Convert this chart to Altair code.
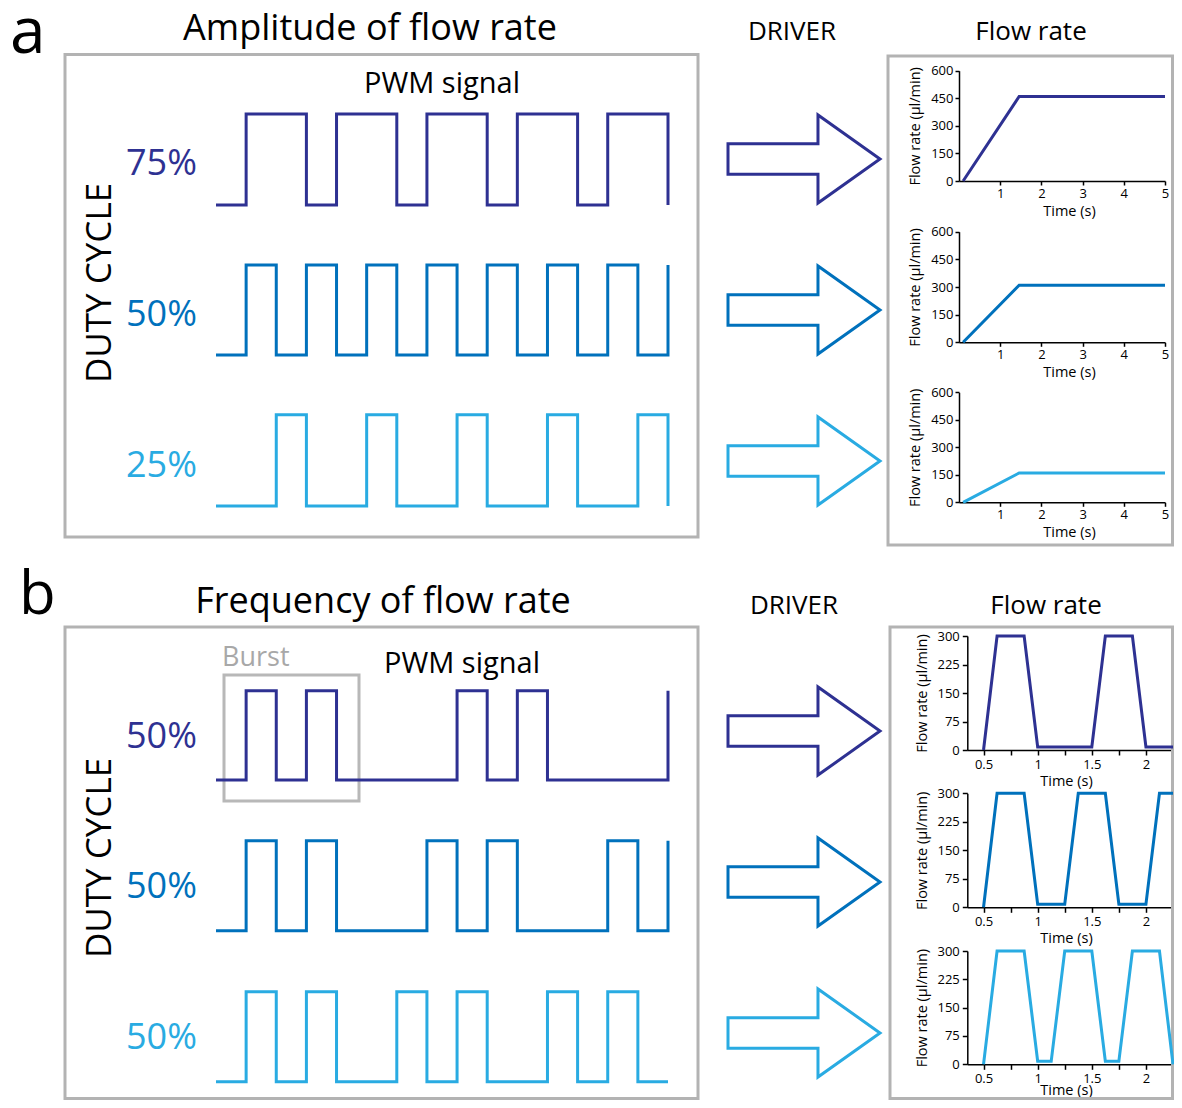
import altair as alt
import pandas as pd

FONT = "Open Sans"
DARK, MID, LIGHT = "#2E3192", "#0071BC", "#29ABE2"
GRAY = "#b3b3b3"

# ---------------- data ----------------
N_SLOTS = 15  # PWM time slots drawn
# transition times (in slots) of each PWM signal, starting from low level
pwm_a75_edges = [1, 3, 4, 6, 7, 9, 10, 12, 13, 15]
pwm_a50_edges = [1, 2, 3, 4, 5, 6, 7, 8, 9, 10, 11, 12, 13, 14, 15]
pwm_a25_edges = [2, 3, 5, 6, 8, 9, 11, 12, 14, 15]
pwm_b1_edges = [1, 2, 3, 4, 8, 9, 10, 11, 15]
pwm_b2_edges = [1, 2, 3, 4, 7, 8, 9, 10, 13, 14, 15]
pwm_b3_edges = [1, 2, 3, 4, 6, 7, 8, 9, 11, 12, 13, 14]
duty_a_labels = ["75%", "50%", "25%"]
duty_b_labels = ["50%", "50%", "50%"]

flow_a_time = [0.1, 1.46, 5.0]
flow_a75 = [0, 460, 460]
flow_a50 = [0, 310, 310]
flow_a25 = [0, 160, 160]
flow_a_xticks = [1, 2, 3, 4, 5]
flow_a_yticks = [0, 150, 300, 450, 600]

flow_b1_time = [0.5, 0.625, 0.875, 1.0, 1.5, 1.625, 1.875, 2.0, 2.25]
flow_b1 = [0, 300, 300, 8, 8, 300, 300, 8, 8]
flow_b2_time = [0.5, 0.625, 0.875, 1.0, 1.25, 1.375, 1.625, 1.75, 2.0, 2.125, 2.25]
flow_b2 = [0, 300, 300, 8, 8, 300, 300, 8, 8, 300, 300]
flow_b3_time = [0.5, 0.625, 0.875, 1.0, 1.125, 1.25, 1.5, 1.625, 1.75, 1.875, 2.125, 2.25]
flow_b3 = [0, 300, 300, 8, 8, 300, 300, 8, 8, 300, 300, 0]
flow_b_xticks = [0.5, 0.75, 1.0, 1.25, 1.5, 1.75, 2.0, 2.25]
flow_b_yticks = [0, 75, 150, 225, 300]

# ---------------- layout ----------------
W, H = 1166, 1092
O = 8  # page margin


def P(v):
    return v - O


def one():
    return alt.Data(values=[{}])


def text(txt, x, y, size, color="black", align="center", angle=None, baseline="alphabetic"):
    kw = dict(text=txt, font=FONT, fontSize=size, color=color, align=align, baseline=baseline)
    if angle is not None:
        kw["angle"] = angle
    return alt.Chart(one()).mark_text(**kw).encode(x=alt.value(P(x)), y=alt.value(P(y)))


def box(x1, y1, x2, y2, color=GRAY, sw=3):
    return alt.Chart(one()).mark_rect(fillOpacity=0, stroke=color, strokeWidth=sw).encode(
        x=alt.value(P(x1)), x2=alt.value(P(x2)), y=alt.value(P(y1)), y2=alt.value(P(y2)))


def pwm(edges, color, y_low, y_high):
    pts = [(0, 0)]
    lvl = 0
    for e in edges:
        pts.append((e, lvl))
        lvl = 1 - lvl
        pts.append((e, lvl))
    if edges[-1] != N_SLOTS:
        pts.append((N_SLOTS, lvl))
    df = pd.DataFrame({"i": range(len(pts)), "slot": [p[0] for p in pts], "level": [p[1] for p in pts]})
    return alt.Chart(df).mark_line(color=color, strokeWidth=3, strokeJoin="miter").encode(
        x=alt.X("slot:Q", scale=alt.Scale(domain=[0, N_SLOTS], range=[P(216), P(668)], nice=False, zero=False), axis=None),
        y=alt.Y("level:Q", scale=alt.Scale(domain=[0, 1], range=[P(y_low), P(y_high)], nice=False, zero=False), axis=None),
        order="i:Q",
    )


def axis_common(tick, lpad, tpad):
    return dict(grid=False, domainColor="black", domainWidth=1.5, tickColor="black", tickWidth=1.5,
                tickSize=tick, labelFont=FONT, labelFontSize=13, labelColor="black", labelPadding=lpad,
                titleFont=FONT, titleFontSize=14.5, titleFontWeight="normal", titleColor="black",
                titlePadding=tpad, labelFlush=False, labelOverlap=False)


def flow(times, flows, color, xdom, xr, xvals, ydom, yr, yvals, tick, lpad, title_x, label_expr=None,
         xtpad=3, title_base=None):
    df = pd.DataFrame({"i": range(len(times)), "t": times, "f": flows})
    xr = [P(v) for v in xr]
    yr = [P(v) for v in yr]
    xkw = axis_common(tick, lpad, xtpad)
    if label_expr:
        xkw["labelExpr"] = label_expr
    if title_base is not None:
        # place the title baseline at a given distance below the axis line
        xkw["titleBaseline"] = "alphabetic"
        xkw["titleY"] = title_base
    xaxis = alt.Axis(orient="bottom", offset=yr[0] - H, values=xvals, title="Time (s)", titleX=P(title_x), **xkw)
    yaxis = alt.Axis(orient="left", offset=-xr[0], values=yvals, title="Flow rate (µl/min)", **axis_common(tick, lpad, 8))
    return alt.Chart(df).mark_line(color=color, strokeWidth=3).encode(
        x=alt.X("t:Q", scale=alt.Scale(domain=xdom, range=xr, nice=False, zero=False), axis=xaxis),
        y=alt.Y("f:Q", scale=alt.Scale(domain=ydom, range=yr, nice=False, zero=False), axis=yaxis),
        order="i:Q",
    )


ARROW = "M-1,-0.2L0.184,-0.2L0.184,-0.58L1,0L0.184,0.58L0.184,0.2L-1,0.2Z"


def arrows(y_first, y_last):
    df = pd.DataFrame({"row": [0, 1, 2]})
    return alt.Chart(df).mark_point(shape=ARROW, filled=False, strokeWidth=3, size=152 ** 2, opacity=1,
                                    strokeJoin="miter").encode(
        x=alt.value(P(804)),
        y=alt.Y("row:Q", scale=alt.Scale(domain=[0, 2], range=[P(y_first), P(y_last)], nice=False, zero=False), axis=None),
        color=alt.Color("row:N", scale=alt.Scale(domain=[0, 1, 2], range=[DARK, MID, LIGHT]), legend=None),
    )


COLORS = [DARK, MID, LIGHT]
layers = []

# ----- panel a -----
layers += [
    box(65, 54.5, 698, 537),
    box(888, 56, 1172.5, 545),
    text("a", 10, 53, 64, align="left"),
    text("Amplitude of flow rate", 370, 40, 36),
    text("DRIVER", 792, 40, 26),
    text("Flow rate", 1031, 40, 26),
    text("PWM signal", 442, 93, 29),
    text("DUTY CYCLE", 100, 283, 35, angle=270, baseline="middle"),
]
for k, (lab, yb) in enumerate(zip(duty_a_labels, [175, 326, 477])):
    layers.append(text(lab, 126, yb, 36, color=COLORS[k], align="left"))
layers += [
    pwm(pwm_a75_edges, DARK, 205, 114),
    pwm(pwm_a50_edges, MID, 355, 265),
    pwm(pwm_a25_edges, LIGHT, 506, 414.7),
    arrows(159, 461),
]
for flows, c, (y0, y1) in zip([flow_a75, flow_a50, flow_a25], COLORS,
                              [(181, 70.7), (342.3, 231.7), (502.3, 392.3)]):
    layers.append(flow(flow_a_time, flows, c, [0, 5], [959, 1165], flow_a_xticks,
                       [0, 600], [y0, y1], flow_a_yticks, 4, 2, 1069, xtpad=4))

# ----- panel b -----
layers += [
    box(65, 627, 698, 1098.5),
    box(890, 627, 1172.5, 1098.5),
    box(224, 675, 359, 801, color="#b8b8b8"),
    text("b", 19, 614, 60, align="left"),
    text("Frequency of flow rate", 383, 613, 36),
    text("DRIVER", 794, 614, 26),
    text("Flow rate", 1046, 614, 26),
    text("Burst", 222, 666, 27, color="#a8a8a8", align="left"),
    text("PWM signal", 462, 673, 29),
    text("DUTY CYCLE", 100, 858, 35, angle=270, baseline="middle"),
]
for k, (lab, yb) in enumerate(zip(duty_b_labels, [748, 898, 1049])):
    layers.append(text(lab, 126, yb, 36, color=COLORS[k], align="left"))
layers += [
    pwm(pwm_b1_edges, DARK, 780, 690.7),
    pwm(pwm_b2_edges, MID, 930.7, 840.7),
    pwm(pwm_b3_edges, LIGHT, 1081.7, 991.7),
    arrows(731, 1033),
]
half_expr = "(datum.value * 4) % 2 == 0 ? format(datum.value, '~g') : ''"
for k, ((tm, flows), c, (y0, y1)) in enumerate(zip(
        [(flow_b1_time, flow_b1), (flow_b2_time, flow_b2), (flow_b3_time, flow_b3)],
        COLORS, [(750, 636), (907.3, 793.3), (1064.3, 951)])):
    layers.append(flow(tm, flows, c, [0.35, 2.25], [967.3, 1173], flow_b_xticks,
                       [0, 300], [y0, y1], flow_b_yticks, 5, 3, 1066, label_expr=half_expr,
                       xtpad=3, title_base=None if k < 2 else 30.5))

chart = (
    alt.layer(*layers)
    .resolve_scale(x="independent", y="independent")
    .properties(width=W, height=H, autosize=alt.AutoSizeParams(type="none"), padding=0)
    .configure_view(strokeOpacity=0)
)

chart.save("out.html", embed_options={"renderer": "svg", "actions": False})
